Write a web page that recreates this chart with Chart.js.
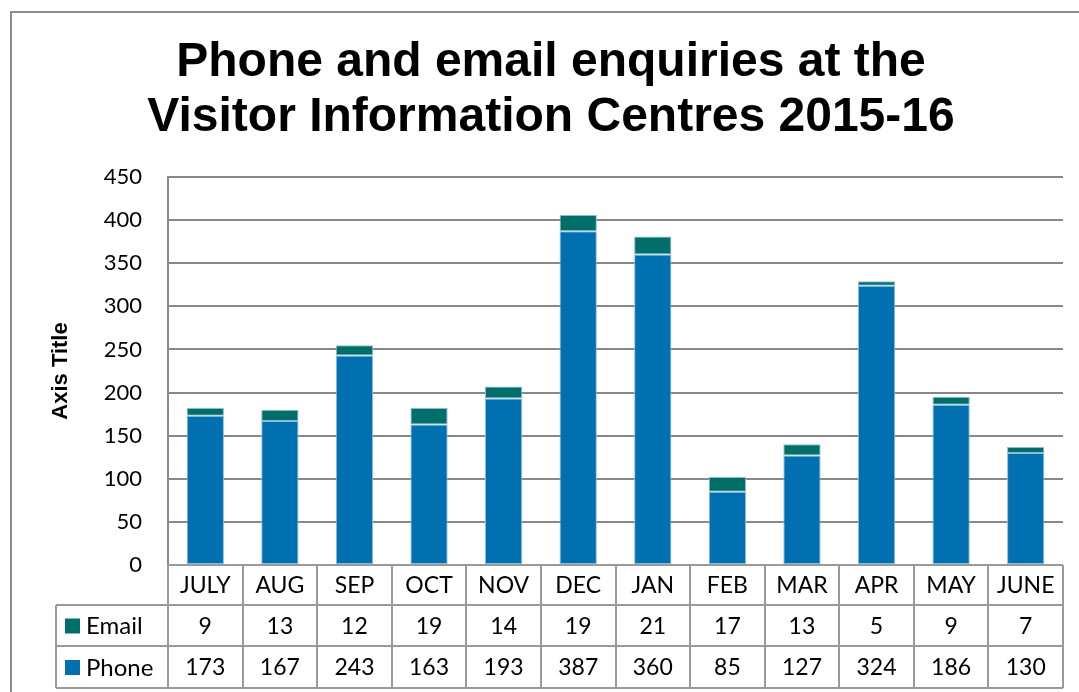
<!DOCTYPE html>
<html>
<head>
<meta charset="utf-8">
<script src="https://cdn.jsdelivr.net/npm/chart.js@4.4.1/dist/chart.umd.min.js"></script>
<style>
  html, body { margin: 0; padding: 0; background: #ffffff; }
  #wrap { width: 1079px; height: 692px; position: relative; }
</style>
</head>
<body>
<div id="wrap"><canvas id="c" width="1079" height="692"></canvas></div>
<script>
const categories = ['JULY', 'AUG', 'SEP', 'OCT', 'NOV', 'DEC', 'JAN', 'FEB', 'MAR', 'APR', 'MAY', 'JUNE'];
const emailValues = [9, 13, 12, 19, 14, 19, 21, 17, 13, 5, 9, 7];
const phoneValues = [173, 167, 243, 163, 193, 387, 360, 85, 127, 324, 186, 130];
const yTicks = { min: 0, max: 450, step: 50 };
const titleLines = ['Phone and email enquiries at the', 'Visitor Information Centres 2015-16'];
const yAxisTitle = 'Axis Title';

const PHONE_COLOR = '#0070B0';
const EMAIL_COLOR = '#006E69';
const GRID_COLOR = '#888888';
const TABLE_COLOR = '#9A9A9A';
const BODY_FONT = 'Lato, "Open Sans", "Liberation Sans", sans-serif';

const decorPlugin = {
  id: 'decor',
  beforeDraw(chart) {
    const ctx = chart.ctx;
    ctx.save();
    ctx.strokeStyle = '#8c8c8c';
    ctx.lineWidth = 2;
    ctx.beginPath();
    ctx.moveTo(11, 700);
    ctx.lineTo(11, 12);
    ctx.lineTo(1090, 12);
    ctx.stroke();
    ctx.fillStyle = '#000';
    ctx.font = 'bold 48px "Liberation Sans", Arial, sans-serif';
    ctx.textAlign = 'center';
    ctx.textBaseline = 'middle';
    ctx.fillText(titleLines[0], 551, 63);
    ctx.fillText(titleLines[1], 551, 118);
    ctx.restore();
  },
  afterDraw(chart) {
    const ctx = chart.ctx;
    const xs = chart.scales.x;
    const area = chart.chartArea;
    const n = categories.length;
    const colW = (area.right - area.left) / n;
    const rows = [area.bottom, 605, 646, 688];
    const legendLeft = 56;
    ctx.save();
    ctx.strokeStyle = TABLE_COLOR;
    ctx.lineWidth = 2;
    ctx.beginPath();
    ctx.moveTo(area.left, rows[0]); ctx.lineTo(area.right, rows[0]);
    for (let r = 1; r < rows.length; r++) {
      ctx.moveTo(legendLeft, rows[r]); ctx.lineTo(area.right, rows[r]);
    }
    ctx.moveTo(legendLeft, rows[1]); ctx.lineTo(legendLeft, rows[3]);
    for (let i = 0; i <= n; i++) {
      const x = Math.round(area.left + i * colW);
      ctx.moveTo(x, rows[0]); ctx.lineTo(x, rows[3]);
    }
    ctx.stroke();

    ctx.fillStyle = '#000';
    ctx.font = '23px ' + BODY_FONT;
    ctx.textAlign = 'center';
    ctx.textBaseline = 'middle';
    categories.forEach((c, i) => {
      const cx = xs.getPixelForValue(i);
      ctx.fillText(c, cx, (rows[0] + rows[1]) / 2 + 1);
      ctx.fillText(String(emailValues[i]), cx, (rows[1] + rows[2]) / 2 + 1);
      ctx.fillText(String(phoneValues[i]), cx, (rows[2] + rows[3]) / 2 + 1);
    });
    const keys = [[EMAIL_COLOR, 'Email', (rows[1] + rows[2]) / 2], [PHONE_COLOR, 'Phone', (rows[2] + rows[3]) / 2]];
    ctx.textAlign = 'left';
    ctx.font = '24px ' + BODY_FONT;
    keys.forEach(([col, label, cy]) => {
      ctx.fillStyle = col;
      ctx.fillRect(65, cy - 7, 15, 15);
      ctx.fillStyle = '#000';
      ctx.fillText(label, 86, cy + 1);
    });
    ctx.restore();
  }
};

new Chart(document.getElementById('c'), {
  type: 'bar',
  data: {
    labels: categories,
    datasets: [
      { label: 'Phone', data: phoneValues, backgroundColor: PHONE_COLOR, borderColor: '#8DBBDA', borderWidth: 1, borderSkipped: false },
      { label: 'Email', data: emailValues, backgroundColor: EMAIL_COLOR, borderColor: '#8DBBDA', borderWidth: 1, borderSkipped: false }
    ]
  },
  options: {
    responsive: false,
    animation: false,
    layout: { padding: { top: 177, left: 40, right: 16, bottom: 127 } },
    plugins: { legend: { display: false }, title: { display: false }, tooltip: { enabled: false } },
    datasets: { bar: { categoryPercentage: 0.5, barPercentage: 1 } },
    scales: {
      x: { stacked: true, display: false, offset: true },
      y: {
        stacked: true,
        min: yTicks.min, max: yTicks.max,
        ticks: { stepSize: yTicks.step, padding: 26, color: '#000', font: { family: BODY_FONT, size: 22 } },
        grid: { color: GRID_COLOR, lineWidth: 2, drawTicks: false },
        border: { display: true, color: GRID_COLOR, width: 2 },
        title: { display: true, text: yAxisTitle, color: '#000', font: { family: '"Liberation Sans", Arial, sans-serif', size: 22, weight: 'bold' }, padding: { top: 8, bottom: 0 } },
        afterFit(scale) { scale.width = 128; }
      }
    }
  },
  plugins: [decorPlugin]
});
</script>
</body>
</html>
